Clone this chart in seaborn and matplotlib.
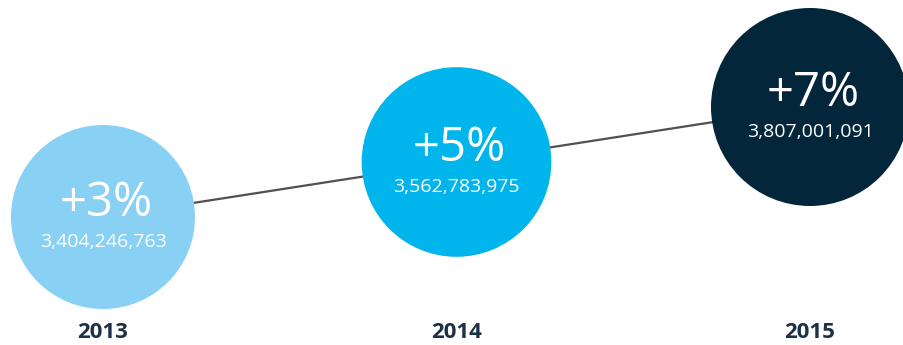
import matplotlib
matplotlib.use("Agg")
import matplotlib.pyplot as plt
import matplotlib.transforms as mtransforms
import seaborn as sns
import pandas as pd

years = ["2013", "2014", "2015"]
growth_pct = [3, 5, 7]
totals = [3404246763, 3562783975, 3807001091]
colors = ["#89d0f5", "#00b5ec", "#03263b"]

df = pd.DataFrame({"idx": range(len(years)), "year": years,
                   "growth": growth_pct, "total": totals})

sns.set_theme(style="white")
plt.rcParams["font.family"] = ["Open Sans", "DejaVu Sans"]

fig = plt.figure(figsize=(9.04, 3.45), dpi=100)
ax = fig.add_axes([0, 0, 1, 1])

sns.lineplot(data=df, x="idx", y="growth", ax=ax, color="#505050",
             linewidth=1.6, zorder=1, legend=False)
sns.scatterplot(data=df, x="idx", y="growth", size="total", hue="year",
                palette=colors, sizes=(17556, 20325),
                size_norm=(min(totals), max(totals)),
                linewidth=0, alpha=1, ax=ax, zorder=2, legend=False)

for i, row in df.iterrows():
    ax.annotate(f"+{row.growth}%", (row.idx, row.growth), xytext=(2, 10),
                textcoords="offset points", ha="center", va="center",
                fontsize=34, fontweight="normal", color="white", zorder=3)
    ax.annotate(f"{row.total:,}", (row.idx, row.growth), xytext=(0, -18),
                textcoords="offset points", ha="center", va="center",
                fontsize=14, color="white", zorder=3)

trans = mtransforms.blended_transform_factory(ax.transData, ax.transAxes)
for i, y in enumerate(years):
    ax.text(i, 1 - 333 / 345, y, transform=trans, ha="center", va="center",
            fontsize=16, fontweight="bold", color="#1b3246")

ax.set_xlim(-103 / 353.5, 2 + 94 / 353.5)
ax.set_ylim(3 - 128 / 27.5, 7 + 107 / 27.5)
ax.axis("off")

fig.savefig("out.png", dpi=100)
